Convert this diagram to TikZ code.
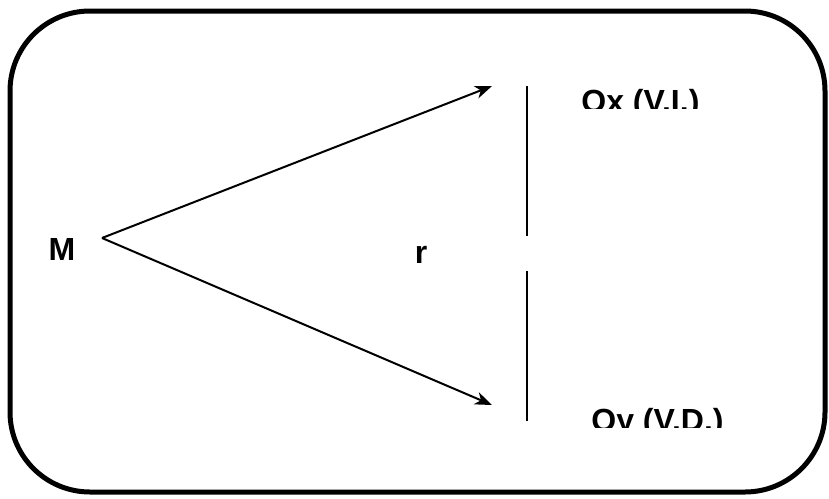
\documentclass[tikz,border=0pt]{standalone}
\usepackage{fontspec}
\setmainfont{Liberation Sans}
\usepackage{xcolor}
\usepackage{tikz}
\usetikzlibrary{arrows.meta}

\begin{document}
\begin{tikzpicture}[x=0.5pt, y=-0.5pt,
    lbl/.style={inner sep=0pt, font=\fontsize{16}{19}\selectfont\bfseries},
    rel/.style={line width=1pt, -{Stealth[length=8.5pt, width=6.5pt, inset=2.5pt]}},
    bar/.style={line width=1.1pt}]
  \useasboundingbox (0,0) rectangle (829,498);
  \draw[line width=2.5pt, rounded corners=40pt] (10,11) rectangle (825,492);

  \node[lbl, anchor=base] (m) at (62,260) {M};
  \node[lbl, anchor=base] (r) at (421,263) {r};
  \begin{scope}
    \clip (560,60) rectangle (740,108);
    \node[lbl, anchor=base west] (ox) at (581,112) {Ox (V.I.)};
  \end{scope}
  \begin{scope}
    \clip (560,380) rectangle (760,427);
    \node[lbl, anchor=base west] (oy) at (591,431) {Oy (V.D.)};
  \end{scope}

  \coordinate (apex) at (102,238);
  \coordinate (tipx) at (492,86);
  \coordinate (tipy) at (492,405);
  \draw[rel] (apex) -- (tipx);
  \draw[rel] (apex) -- (tipy);

  % the two bars
  \coordinate (bx1) at (527,86);
  \coordinate (bx2) at (527,236);
  \coordinate (by1) at (527,271);
  \coordinate (by2) at (527,421);
  \draw[bar] (bx1) -- (bx2);
  \draw[bar] (by1) -- (by2);
\end{tikzpicture}
\end{document}
